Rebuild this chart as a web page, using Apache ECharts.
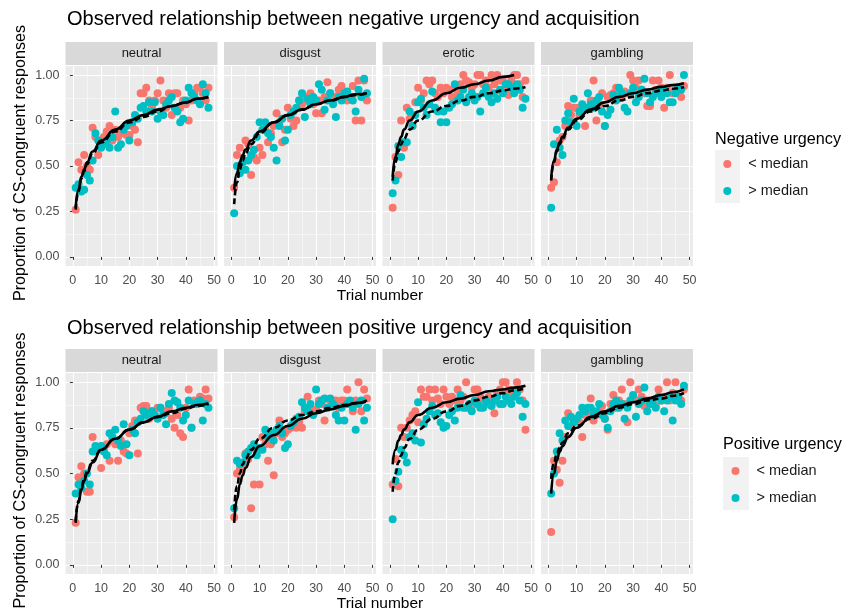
<!DOCTYPE html>
<html><head><meta charset="utf-8">
<script src="https://cdn.jsdelivr.net/npm/echarts@6/dist/echarts.min.js"></script>
<style>html,body{margin:0;padding:0;background:#fff}#c{width:843px;height:613px}</style>
</head><body><div id="c"></div>
<script>
const trials = [1,2,3,4,5,6,7,8,9,10,11,12,13,14,15,16,17,18,19,20,21,22,23,24,25,26,27,28,29,30,31,32,33,34,35,36,37,38,39,40,41,42,43,44,45,46,47,48];
const facets = ['neutral','disgust','erotic','gambling'];
const rowTitles = ['Observed relationship between negative urgency and acquisition','Observed relationship between positive urgency and acquisition'];
const legendTitles = ['Negative urgency','Positive urgency'];
const groups = ['< median','> median'];
const xTicks = [0,10,20,30,40,50];
const xMinor = [5,15,25,35,45];
const yTicks = [0,0.25,0.5,0.75,1];
const yMinor = [0.125,0.375,0.625,0.875];

// Negative urgency
const negNeutralLow = [0.26,0.52,0.48,0.56,0.50,0.48,0.71,0.66,0.56,0.62,0.66,0.69,0.72,0.64,0.70,0.66,0.70,0.68,0.67,0.67,0.72,0.70,0.63,0.90,0.90,0.93,0.86,0.82,0.86,0.90,0.97,0.86,0.82,0.90,0.78,0.90,0.90,0.82,0.86,0.84,0.75,0.86,0.90,0.93,0.93,0.90,0.86,0.93];
const negNeutralHigh = [0.38,0.40,0.36,0.37,0.45,0.42,0.53,0.68,0.64,0.60,0.62,0.64,0.60,0.66,0.80,0.60,0.62,0.70,0.72,0.64,0.74,0.78,0.76,0.82,0.83,0.80,0.85,0.80,0.85,0.76,0.80,0.78,0.84,0.86,0.88,0.82,0.80,0.74,0.76,0.86,0.93,0.90,0.88,0.86,0.84,0.95,0.90,0.82];
const negDisgustLow = [0.38,0.56,0.60,0.52,0.64,0.62,0.45,0.55,0.53,0.60,0.56,0.70,0.63,0.68,0.72,0.79,0.74,0.63,0.70,0.82,0.76,0.72,0.75,0.86,0.84,0.88,0.86,0.90,0.84,0.79,0.86,0.79,0.88,0.96,0.90,0.86,0.88,0.92,0.94,0.90,0.86,0.88,0.94,0.75,0.97,0.75,0.97,0.86];
const negDisgustHigh = [0.24,0.50,0.46,0.52,0.48,0.53,0.56,0.59,0.66,0.74,0.70,0.74,0.68,0.66,0.60,0.53,0.72,0.76,0.64,0.70,0.78,0.80,0.82,0.86,0.90,0.77,0.87,0.84,0.88,0.86,0.95,0.92,0.81,0.86,0.90,0.84,0.77,0.88,0.86,0.90,0.91,0.88,0.86,0.80,0.92,0.88,0.98,0.90];
const negEroticLow = [0.27,0.55,0.45,0.75,0.60,0.82,0.76,0.72,0.85,0.93,0.86,0.90,0.97,0.95,0.97,0.90,0.88,0.93,0.90,0.93,0.92,0.88,0.93,0.90,0.95,1.00,0.97,0.96,0.93,0.95,1.00,1.00,0.95,0.97,0.93,1.00,0.95,1.00,0.97,0.97,0.93,0.89,0.97,1.00,1.00,0.95,0.88,0.97];
const negEroticHigh = [0.35,0.42,0.61,0.55,0.63,0.63,0.80,0.72,0.78,0.85,0.87,0.82,0.78,0.84,0.91,0.82,0.80,0.74,0.80,0.74,0.82,0.84,0.95,0.86,0.88,0.92,0.85,0.88,0.90,0.86,0.88,0.80,0.90,0.93,0.88,0.85,0.90,0.87,0.92,0.90,0.95,0.95,0.93,0.90,0.95,0.92,0.82,0.87];
const negGamblingLow = [0.38,0.41,0.52,0.64,0.66,0.72,0.83,0.78,0.82,0.82,0.78,0.80,0.72,0.82,0.86,0.97,0.75,0.84,0.90,0.72,0.88,0.89,0.90,0.93,0.90,0.88,0.91,0.90,1.00,0.97,0.93,0.97,0.92,0.90,0.83,0.83,0.97,0.92,0.97,0.93,0.82,0.93,1.00,0.90,0.91,0.93,0.88,0.94];
const negGamblingHigh = [0.27,0.62,0.70,0.60,0.56,0.75,0.79,0.74,0.87,0.72,0.80,0.84,0.82,0.90,0.84,0.82,0.86,0.88,0.80,0.72,0.78,0.81,0.89,0.86,0.93,0.90,0.82,0.80,0.90,0.93,0.85,0.88,0.92,0.98,0.90,0.85,0.88,0.90,0.91,0.88,0.92,0.90,0.85,0.85,0.90,0.93,0.92,1.00];

// Positive urgency
const posNeutralLow = [0.23,0.48,0.54,0.50,0.40,0.40,0.70,0.62,0.63,0.53,0.64,0.66,0.57,0.68,0.66,0.57,0.68,0.62,0.61,0.72,0.76,0.79,0.61,0.86,0.87,0.87,0.80,0.84,0.82,0.86,0.86,0.84,0.83,0.86,0.80,0.75,0.82,0.72,0.70,0.86,0.96,0.75,0.90,0.88,0.92,0.91,0.96,0.91];
const posNeutralHigh = [0.39,0.44,0.42,0.46,0.50,0.44,0.62,0.65,0.64,0.65,0.62,0.60,0.72,0.70,0.74,0.68,0.65,0.77,0.66,0.60,0.74,0.72,0.78,0.80,0.84,0.82,0.83,0.84,0.82,0.80,0.86,0.82,0.77,0.88,0.94,0.90,0.89,0.86,0.79,0.82,0.90,0.75,0.88,0.89,0.90,0.79,0.88,0.86];
const posDisgustLow = [0.26,0.50,0.52,0.55,0.61,0.58,0.31,0.44,0.62,0.44,0.70,0.66,0.57,0.66,0.49,0.72,0.79,0.70,0.72,0.74,0.75,0.76,0.75,0.78,0.75,0.84,0.92,0.86,0.84,0.85,0.90,0.88,0.79,0.86,0.90,0.88,0.90,0.86,0.90,0.90,0.96,0.88,0.84,0.90,1.00,0.84,0.96,0.91];
const posDisgustHigh = [0.31,0.57,0.55,0.56,0.60,0.62,0.64,0.66,0.60,0.64,0.63,0.74,0.70,0.72,0.68,0.74,0.76,0.72,0.64,0.66,0.76,0.78,0.80,0.81,0.89,0.86,0.84,0.88,0.82,0.96,0.88,0.90,0.91,0.86,0.91,0.88,0.82,0.79,0.86,0.79,0.88,0.90,0.86,0.74,0.88,0.90,0.79,0.86];
const posEroticLow = [0.44,0.58,0.43,0.75,0.70,0.75,0.79,0.82,0.84,0.78,0.96,0.92,0.92,0.96,0.90,0.96,0.91,0.88,0.96,0.92,0.88,0.92,0.90,0.96,0.90,0.92,1.00,0.86,0.87,0.96,0.96,0.92,0.90,0.89,0.92,0.88,0.83,0.94,0.96,1.00,1.00,0.96,0.92,0.94,1.00,0.96,0.90,0.74];
const posEroticHigh = [0.25,0.46,0.51,0.63,0.60,0.56,0.70,0.72,0.68,0.89,0.67,0.77,0.80,0.84,0.87,0.82,0.83,0.78,0.75,0.76,0.82,0.84,0.79,0.86,0.93,0.86,0.86,0.88,0.84,0.90,0.88,0.86,0.86,0.90,0.88,0.87,0.90,0.92,0.88,0.88,0.92,0.90,0.88,0.92,0.94,0.90,0.81,0.88];
const posGamblingLow = [0.18,0.57,0.52,0.45,0.57,0.70,0.83,0.76,0.79,0.79,0.78,0.70,0.82,0.84,0.91,0.79,0.82,0.84,0.87,0.80,0.74,0.88,0.93,0.86,0.90,0.96,0.88,0.78,1.00,0.92,0.90,0.96,0.92,0.87,0.90,0.90,0.88,0.87,0.96,0.90,0.92,1.00,0.90,0.94,1.00,0.92,0.90,0.96];
const posGamblingHigh = [0.39,0.50,0.62,0.72,0.68,0.79,0.76,0.81,0.78,0.80,0.82,0.86,0.84,0.86,0.86,0.82,0.84,0.88,0.82,0.80,0.75,0.84,0.88,0.90,0.86,0.88,0.80,0.86,0.90,0.93,0.81,0.88,0.90,0.97,0.84,0.88,0.90,0.86,0.92,0.90,0.84,0.90,0.92,0.79,0.90,0.92,0.88,0.98];

// Fitted curves (read at these trial numbers)
const curveX = [1,2,3,4,5,7,10,15,20,25,30,35,40,44,48];
const negNeutralSolid = [0.27,0.37,0.44,0.48,0.52,0.58,0.64,0.70,0.75,0.78,0.81,0.83,0.85,0.87,0.88];
const negNeutralDashed = [0.26,0.36,0.43,0.47,0.51,0.57,0.63,0.69,0.74,0.77,0.80,0.83,0.85,0.87,0.88];
const negDisgustSolid = [0.37,0.46,0.52,0.56,0.59,0.64,0.69,0.74,0.78,0.81,0.84,0.86,0.88,0.895,0.90];
const negDisgustDashed = [0.29,0.41,0.48,0.53,0.57,0.62,0.68,0.74,0.78,0.81,0.84,0.86,0.88,0.89,0.90];
const negEroticSolid = [0.44,0.55,0.62,0.66,0.70,0.75,0.80,0.86,0.90,0.93,0.95,0.97,0.99,1.00,null];
const negEroticDashed = [0.42,0.52,0.58,0.62,0.65,0.70,0.75,0.80,0.83,0.86,0.88,0.90,0.915,0.925,0.935];
const negGamblingSolid = [0.43,0.53,0.59,0.63,0.66,0.71,0.76,0.81,0.85,0.88,0.90,0.92,0.935,0.945,0.955];
const negGamblingDashed = [0.42,0.52,0.58,0.62,0.65,0.70,0.75,0.80,0.83,0.86,0.88,0.90,0.915,0.925,0.935];
const posNeutralSolid = [0.23,0.34,0.41,0.46,0.50,0.56,0.63,0.69,0.74,0.78,0.81,0.84,0.86,0.875,0.885];
const posNeutralDashed = [0.24,0.35,0.42,0.47,0.51,0.57,0.63,0.69,0.74,0.78,0.81,0.83,0.855,0.87,0.88];
const posDisgustSolid = [0.23,0.36,0.44,0.49,0.53,0.59,0.65,0.71,0.76,0.80,0.83,0.85,0.87,0.885,0.90];
const posDisgustDashed = [0.30,0.43,0.50,0.55,0.58,0.63,0.69,0.75,0.79,0.82,0.84,0.86,0.875,0.885,0.895];
const posEroticSolid = [0.55,0.63,0.68,0.71,0.74,0.78,0.82,0.86,0.89,0.91,0.93,0.95,0.96,0.97,0.98];
const posEroticDashed = [0.40,0.50,0.56,0.60,0.64,0.69,0.74,0.80,0.84,0.87,0.90,0.92,0.94,0.955,0.97];
const posGamblingSolid = [0.39,0.50,0.57,0.62,0.65,0.70,0.75,0.81,0.84,0.87,0.89,0.91,0.93,0.945,0.96];
const posGamblingDashed = [0.47,0.56,0.61,0.64,0.67,0.72,0.76,0.80,0.83,0.86,0.88,0.90,0.91,0.925,0.94];

const pointsByPanel = [
  [negNeutralLow,negNeutralHigh],[negDisgustLow,negDisgustHigh],[negEroticLow,negEroticHigh],[negGamblingLow,negGamblingHigh],
  [posNeutralLow,posNeutralHigh],[posDisgustLow,posDisgustHigh],[posEroticLow,posEroticHigh],[posGamblingLow,posGamblingHigh]
];
const curvesByPanel = [
  [negNeutralSolid,negNeutralDashed],[negDisgustSolid,negDisgustDashed],[negEroticSolid,negEroticDashed],[negGamblingSolid,negGamblingDashed],
  [posNeutralSolid,posNeutralDashed],[posDisgustSolid,posDisgustDashed],[posEroticSolid,posEroticDashed],[posGamblingSolid,posGamblingDashed]
];

// ---------- layout / style ----------
const FONT = '"Liberation Sans", Arial, Helvetica, sans-serif';
const colors = ['#F8766D','#00BFC4'];
const colLeft = [65.5,224,382.5,541];
const panelW = 152;
const rowTop = [66,373];
const panelH = [200,201];
const X_MIN = -2.6, X_MAX = 51.2, Y_MIN = -0.05, Y_MAX = 1.05;

const grids = [], xAxes = [], yAxes = [], series = [], graphics = [];
for (let p = 0; p < 8; p++) {
  const row = Math.floor(p/4), col = p%4;
  grids.push({left: colLeft[col], top: rowTop[row], width: panelW, height: panelH[row], containLabel: false});
  xAxes.push({gridIndex: p, type: 'value', min: X_MIN, max: X_MAX,
    axisLine: {show: false},
    axisTick: {show: true, length: 3, customValues: xTicks, lineStyle: {color: '#333333', width: 1}},
    axisLabel: {show: true, customValues: xTicks, color: '#4D4D4D', fontSize: 12.5, fontFamily: FONT, margin: 8},
    splitLine: {show: true, lineStyle: {color: '#FFFFFF', width: 1.1}}});
  xAxes.push({gridIndex: p, type: 'value', min: X_MIN, max: X_MAX,
    axisLine: {show: false}, axisLabel: {show: false},
    axisTick: {show: false, customValues: xMinor},
    splitLine: {show: true, lineStyle: {color: '#FFFFFF', width: 0.5}}});
  yAxes.push({gridIndex: p, type: 'value', min: Y_MIN, max: Y_MAX,
    axisLine: {show: false},
    axisTick: {show: col === 0, length: 3, customValues: yTicks, lineStyle: {color: '#333333', width: 1}},
    axisLabel: {show: col === 0, customValues: yTicks, color: '#4D4D4D', fontSize: 12.5, fontFamily: FONT, margin: 6,
      formatter: v => v.toFixed(2)},
    splitLine: {show: true, lineStyle: {color: '#FFFFFF', width: 1.1}}});
  yAxes.push({gridIndex: p, type: 'value', min: Y_MIN, max: Y_MAX,
    axisLine: {show: false}, axisLabel: {show: false},
    axisTick: {show: false, customValues: yMinor},
    splitLine: {show: true, lineStyle: {color: '#FFFFFF', width: 0.5}}});

  // panel background + strip
  graphics.push({type: 'rect', z: -5, silent: true,
    shape: {x: colLeft[col], y: rowTop[row], width: panelW, height: panelH[row]},
    style: {fill: '#EBEBEB'}});
  graphics.push({type: 'rect', z: -5, silent: true,
    shape: {x: colLeft[col], y: rowTop[row]-24, width: panelW, height: 23},
    style: {fill: '#D9D9D9'}});
  graphics.push({type: 'text', z: 5, silent: true, x: colLeft[col] + panelW/2, y: rowTop[row]-12.5,
    style: {text: facets[col], fill: '#1A1A1A', font: '13px ' + FONT, textAlign: 'center', textVerticalAlign: 'middle'}});

  // points
  for (let g = 0; g < 2; g++) {
    const vals = pointsByPanel[p][g];
    series.push({type: 'scatter', name: groups[g], xAxisIndex: 2*p, yAxisIndex: 2*p,
      symbol: 'circle', symbolSize: 8, z: 3,
      itemStyle: {color: colors[g], opacity: 1},
      data: trials.map((t, i) => [t, vals[i]])});
  }
  // fitted curves
  for (let g = 0; g < 2; g++) {
    const vals = curvesByPanel[p][g];
    const pts = [];
    curveX.forEach((x, i) => { if (vals[i] !== null) pts.push([x, vals[i]]); });
    series.push({type: 'line', xAxisIndex: 2*p, yAxisIndex: 2*p, z: 4,
      showSymbol: false, symbol: 'none', smooth: 0.5, smoothMonotone: 'x',
      lineStyle: {color: '#000000', width: 2.6, type: g === 0 ? 'solid' : [6, 3]},
      data: pts, silent: true});
  }
}

// titles and axis titles
for (let r = 0; r < 2; r++) {
  graphics.push({type: 'text', silent: true, x: 67, y: r === 0 ? 19 : 328,
    style: {text: rowTitles[r], fill: '#000000', font: '20px ' + FONT, textAlign: 'left', textVerticalAlign: 'middle'}});
  graphics.push({type: 'text', silent: true, x: 380, y: r === 0 ? 296 : 604,
    style: {text: 'Trial number', fill: '#000000', font: '15.5px ' + FONT, textAlign: 'center', textVerticalAlign: 'middle'}});
  graphics.push({type: 'text', silent: true, x: 21, y: rowTop[r] + panelH[r]/2 - 3, rotation: Math.PI/2,
    style: {text: 'Proportion of CS-congruent responses', fill: '#000000', font: '16.2px ' + FONT, textAlign: 'center', textVerticalAlign: 'middle'}});
}
// legend decorations
graphics.push({type: 'text', silent: true, x: 715, y: 140,
  style: {text: legendTitles[0], fill: '#000000', font: '16.2px ' + FONT, textAlign: 'left', textVerticalAlign: 'middle'}});
graphics.push({type: 'rect', z: -5, silent: true, shape: {x: 715, y: 150, width: 25, height: 53}, style: {fill: '#F2F2F2'}});
graphics.push({type: 'text', silent: true, x: 723, y: 445,
  style: {text: legendTitles[1], fill: '#000000', font: '16.2px ' + FONT, textAlign: 'left', textVerticalAlign: 'middle'}});
graphics.push({type: 'rect', z: -5, silent: true, shape: {x: 723, y: 457, width: 26, height: 53}, style: {fill: '#F2F2F2'}});

const legendCommon = {orient: 'vertical', data: groups, icon: 'circle', itemWidth: 8, itemHeight: 8,
  itemGap: 11, padding: 0, selectedMode: false,
  textStyle: {fontSize: 14.5, fontFamily: FONT, color: '#1A1A1A', lineHeight: 16, padding: [0, 0, 0, 12]}};

const chart = echarts.init(document.getElementById('c'), null, {renderer: 'canvas'});
chart.setOption({
  animation: false,
  backgroundColor: '#FFFFFF',
  grid: grids, xAxis: xAxes, yAxis: yAxes, series: series,
  legend: [
    Object.assign({}, legendCommon, {left: 723.3, top: 156}),
    Object.assign({}, legendCommon, {left: 731.5, top: 463})
  ],
  graphic: {elements: graphics}
});
</script></body></html>
